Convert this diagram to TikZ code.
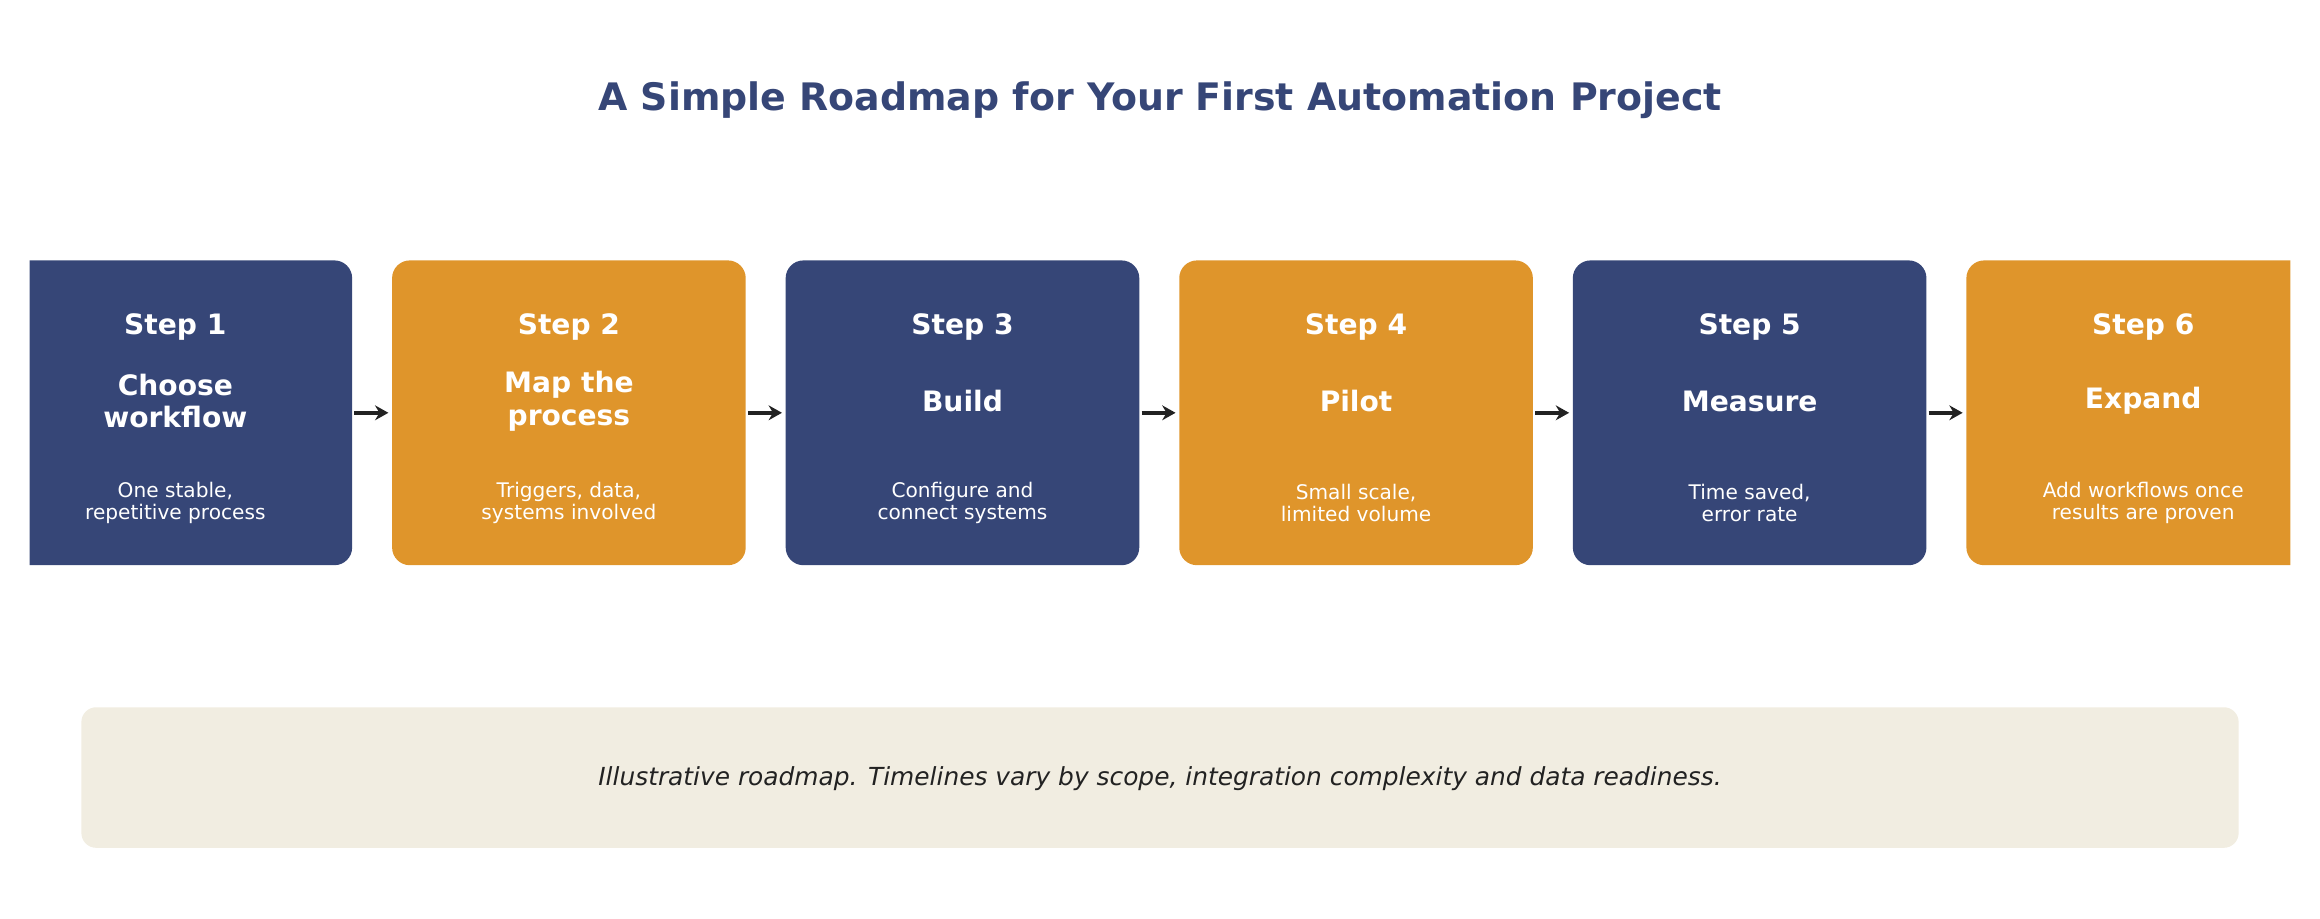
\documentclass[tikz,border=0pt]{standalone}
\usepackage{fontspec}
\setmainfont{DejaVu Sans}
\usetikzlibrary{arrows.meta}
\definecolor{navy}{HTML}{364677}
\definecolor{orng}{HTML}{DF952B}
\definecolor{foot}{HTML}{F1EDE1}
\definecolor{ink}{HTML}{222222}
\begin{document}
\begin{tikzpicture}[x=0.5pt,y=-0.5pt,
  box/.style={rounded corners=6pt,draw=none},
  lbl/.style={text=white,font=\bfseries\fontsize{9.5}{11}\selectfont,align=center},
  desc/.style={text=white,font=\fontsize{6.8}{7.6}\selectfont,align=center},
  arr/.style={draw=ink,line width=1.5pt,-{Stealth[length=4.5pt,width=5pt]}}]
\useasboundingbox (0,0) rectangle (1568,621);
\node[text=navy,font=\bfseries\fontsize{12.8}{15}\selectfont] (title) at (784,68) {A Simple Roadmap for Your First Automation Project};
\begin{scope}
\clip (20,0) rectangle (1548,621);
\foreach \i/\c in {0/navy,1/orng,2/navy,3/orng,4/navy,5/orng}{
  \fill[\c,rounded corners=6pt] ({-1+266*\i},176) rectangle ({238+266*\i},382);
}
\end{scope}
\foreach \i/\s/\t/\d in {0/1/{Choose\\workflow}/{One stable,\\repetitive process},
  1/2/{Map the\\process}/{Triggers, data,\\systems involved},
  2/3/Build/{Configure and\\connect systems},
  3/4/Pilot/{Small scale,\\limited volume},
  4/5/Measure/{Time saved,\\error rate},
  5/6/Expand/{Add workflows once\\results are proven}}{
  \coordinate (b\s) at ({118.5+266*\i},279);
  \node[lbl] (s\s) at ({118.5+266*\i},221) {Step \s};
  \node[lbl] (t\s) at ({118.5+266*\i},271) {\t};
  \node[desc] (d\s) at ({118.5+266*\i},340) {\d};
}
\foreach \a/\b in {1/2,2/3,3/4,4/5,5/6}{
  \coordinate (L\a) at ([xshift=60.5pt]b\a);
  \coordinate (R\a) at ([xshift=72pt]b\a);
  \draw[arr] (L\a) -- (R\a);
}
\fill[foot,rounded corners=5pt] (55,478) rectangle (1513,573);
\node[text=ink,font=\itshape\fontsize{8.4}{10}\selectfont] (note) at (784,526) {Illustrative roadmap. Timelines vary by scope, integration complexity and data readiness.};
\end{tikzpicture}
\end{document}
